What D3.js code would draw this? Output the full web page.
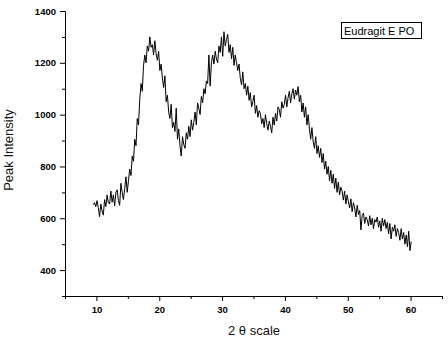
<!DOCTYPE html>
<html>
<head>
<meta charset="utf-8">
<script src="https://cdn.jsdelivr.net/npm/d3@7"></script>
<style>
	body { margin: 0; background: #fff; }
	svg { display: block; font-family: Arial, "Liberation Sans", sans-serif; }
</style>
</head>
<body>
<script>
// scan grid (2 theta, degrees)
var thetaStart = 9.5,
	thetaStep = 0.2;

// peak intensity, one value per step
var intensity = [
	652, 660, 645, 668, 641,   606, 655, 628, 612, 672,
	645, 690, 660, 655, 705,   662, 690, 648, 700, 710,
	668, 650, 735, 700, 672,   715, 760, 700, 745, 790,
	765, 840, 820, 905, 880,   985, 960, 1060, 1120, 1090,
	1190, 1230, 1200, 1265, 1245,  1300, 1260, 1270, 1230, 1285,
	1235, 1210, 1245, 1170, 1195,  1140, 1105, 1150, 1050, 1075,
	1010, 985, 1040, 950, 970,  935, 1025, 905, 945, 880,
	840, 915, 885, 870, 930,   905, 955, 915, 980, 940,
	970, 1010, 960, 1045, 1025,  1000, 1070, 1045, 1100, 1080,
	1130, 1120, 1230, 1110, 1200,  1230, 1195, 1245, 1215, 1200,
	1265, 1240, 1300, 1225, 1320,  1265, 1290, 1310, 1240, 1270,
	1215, 1260, 1190, 1230, 1200,  1170, 1195, 1140, 1115, 1165,
	1100, 1120, 1075, 1110, 1055,  1085, 1030, 1050, 1075, 1005,
	1035, 990, 1015, 1005, 965,  985, 950, 1000, 965, 940,
	975, 955, 930, 990, 960,   1005, 975, 1030, 1020, 990,
	1050, 1025, 1040, 1075, 1030,  1065, 1090, 1045, 1080, 1100,
	1060, 1095, 1075, 1108, 1050,  1075, 1010, 1045, 990, 1030,
	960, 1000, 945, 905, 950,  895, 870, 915, 850, 880,
	835, 870, 815, 850, 790,   820, 770, 800, 745, 785,
	735, 770, 715, 755, 700,   740, 690, 720, 705, 670,
	705, 655, 690, 665, 640,   675, 625, 660, 640, 605,
	650, 615, 630, 555, 610,   620, 580, 605, 595, 570,
	610, 575, 600, 560, 595,   585, 605, 565, 590, 550,
	600, 570, 595, 560, 585,   540, 580, 520, 565, 550,
	575, 530, 560, 545, 515,   560, 520, 545, 500, 535,
	490, 550, 475, 510
];

var xDomain = [5, 65],
	yDomain = [300, 1400],
	xMajor = [10, 20, 30, 40, 50, 60],
	xMinor = [5, 15, 25, 35, 45, 55, 65],
	yMajor = [400, 600, 800, 1000, 1200, 1400],
	yMinor = [300, 500, 700, 900, 1100, 1300];

var legendLabel = "Eudragit E PO",
	xTitle = "2 \u03b8 scale",
	yTitle = "Peak Intensity";

var svg = d3.select("body").append("svg")
	.attr("width", 448)
	.attr("height", 338);

var margin = {top: 11, right: 6, bottom: 42, left: 65},
	width = +svg.attr("width") - margin.left - margin.right,
	height = +svg.attr("height") - margin.top - margin.bottom,
	g = svg.append("g").attr("transform", "translate(" + margin.left + "," + margin.top + ")");

var x = d3.scaleLinear().domain(xDomain).range([0, width]);
var y = d3.scaleLinear().domain(yDomain).range([height, 0]);

var points = intensity.map(function(v, i){
	return {t: thetaStart + i * thetaStep, v: v};
});

var line = d3.line()
	.x(function(d){return x(d.t);})
	.y(function(d){return y(d.v);});

g.append("path")
	.datum(points)
	.attr("fill", "none")
	.attr("stroke", "#000")
	.attr("stroke-width", 1)
	.attr("d", line);

function styleAxis(sel)
{
	sel.select(".domain").attr("stroke", "#000");
	sel.selectAll("line").attr("stroke", "#000");
	sel.selectAll("text")
		.attr("fill", "#000")
		.attr("font-size", 9.5)
		.attr("font-weight", "bold")
		.attr("font-family", "Arial, 'Liberation Sans', sans-serif");
}

// minor ticks first, major on top
g.append("g")
	.attr("transform", "translate(0," + height + ")")
	.call(d3.axisBottom(x).tickValues(xMinor).tickSize(3).tickFormat("").tickSizeOuter(0))
	.call(styleAxis);
g.append("g")
	.attr("transform", "translate(0," + height + ")")
	.call(d3.axisBottom(x).tickValues(xMajor).tickSize(5).tickPadding(5).tickFormat(d3.format("d")).tickSizeOuter(0))
	.call(styleAxis);

g.append("g")
	.call(d3.axisLeft(y).tickValues(yMinor).tickSize(3).tickFormat("").tickSizeOuter(0))
	.call(styleAxis);
g.append("g")
	.call(d3.axisLeft(y).tickValues(yMajor).tickSize(5).tickPadding(4).tickFormat(d3.format("d")).tickSizeOuter(0))
	.call(styleAxis);

// titles
svg.append("text")
	.attr("x", 254)
	.attr("y", 334.5)
	.attr("text-anchor", "middle")
	.attr("font-size", 13)
	.attr("fill", "#111")
	.text(xTitle);

svg.append("text")
	.attr("transform", "translate(13,150) rotate(-90)")
	.attr("text-anchor", "middle")
	.attr("font-size", 13)
	.attr("fill", "#111")
	.text(yTitle);

// legend box
var legend = svg.append("g").attr("transform", "translate(341,22)");
legend.append("rect")
	.attr("x", 0.5)
	.attr("y", 0.5)
	.attr("width", 80)
	.attr("height", 16)
	.attr("fill", "#fff")
	.attr("stroke", "#000");
legend.append("text")
	.attr("x", 3)
	.attr("y", 12.5)
	.attr("font-size", 11)
	.attr("fill", "#000")
	.text(legendLabel);
</script>
</body>
</html>
